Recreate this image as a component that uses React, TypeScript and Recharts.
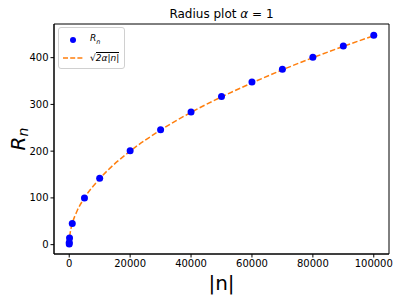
import React from "react";
import {
  ComposedChart,
  Scatter,
  Line,
  XAxis,
  YAxis,
  ReferenceArea,
} from "recharts";

// measured points
const nValues = [1, 10, 100, 1000, 5000, 10000, 20000, 30000, 40000, 50000, 60000, 70000, 80000, 90000, 100000];
const rValues = [1.4, 4.5, 14, 45, 100, 142, 201, 246, 284, 317, 348, 375, 401, 425, 448];

// fitted curve sqrt(2 alpha |n|)
const curveN = [0, 100, 250, 500, 1000, 2500, 5000, 10000, 20000, 30000, 40000, 50000, 60000, 70000, 80000, 90000, 100000];
const curveR = [0, 14, 22, 32, 45, 71, 100, 141, 200, 245, 283, 316, 346, 374, 400, 424, 447];

const xTicks = [0, 20000, 40000, 60000, 80000, 100000];
const yTicks = [0, 100, 200, 300, 400];

const points = nValues.map((n, i) => ({ n, r: rValues[i] }));
const curve = curveN.map((n, i) => ({ n, r: curveR[i] }));

const FONT = "DejaVu Sans, sans-serif";

const LegendBox = () => (
  <div
    style={{
      position: "absolute",
      left: 58,
      top: 27,
      border: "1px solid #d0d0d0",
      borderRadius: 3,
      background: "rgba(255,255,255,0.8)",
      padding: "2px 5px 2px 4px",
      fontFamily: FONT,
      fontSize: 9,
      color: "#000",
      lineHeight: "16px",
    }}
  >
    <div style={{ display: "flex", alignItems: "center" }}>
      <svg width={20} height={10} style={{ marginRight: 7 }}>
        <circle cx={10} cy={5} r={3} fill="#0000ff" />
      </svg>
      <span style={{ fontStyle: "italic" }}>
        R<sub style={{ fontSize: 6.5 }}>n</sub>
      </span>
    </div>
    <div style={{ display: "flex", alignItems: "center" }}>
      <svg width={20} height={10} style={{ marginRight: 7 }}>
        <line x1={0} y1={5} x2={20} y2={5} stroke="#ff7f0e" strokeWidth={1.5} strokeDasharray="5 2.2" />
      </svg>
      <span>
        √<span style={{ borderTop: "1px solid #000", fontStyle: "italic" }}>2α|n|</span>
      </span>
    </div>
  </div>
);

const YLabel = (props: any) => {
  const { viewBox } = props;
  const cx = 18;
  const cy = viewBox.y + viewBox.height / 2;
  return (
    <text
      x={cx}
      y={cy}
      transform={`rotate(-90 ${cx} ${cy})`}
      textAnchor="middle"
      dominantBaseline="central"
      fontFamily={FONT}
      fontSize={20}
      fontStyle="italic"
      fill="#000"
    >
      R<tspan fontSize={14} dy={5}>n</tspan>
    </text>
  );
};

export default function App() {
  return (
    <div style={{ position: "absolute", left: 0, top: 0, width: 401, height: 301, background: "#fff" }}>
      <div
        style={{
          position: "absolute",
          left: 54,
          width: 335,
          top: 7,
          textAlign: "center",
          fontFamily: FONT,
          fontSize: 12,
          color: "#000",
        }}
      >
        Radius plot <i>α</i> = 1
      </div>
      <ComposedChart width={401} height={301} margin={{ top: 24, right: 12, bottom: 0, left: 0 }}>
        <XAxis
          dataKey="n"
          type="number"
          domain={[-5000, 105000]}
          ticks={xTicks}
          allowDataOverflow
          height={47}
          stroke="#000"
          tickSize={3.5}
          tick={{ fontSize: 10, fill: "#000", fontFamily: FONT }}
          label={{ value: "|n|", position: "insideBottom", offset: 11, fontSize: 20, fill: "#000", fontFamily: FONT }}
        />
        <YAxis
          dataKey="r"
          type="number"
          domain={[-20, 472]}
          ticks={yTicks}
          allowDataOverflow
          width={54}
          stroke="#000"
          tickSize={3.5}
          tick={{ fontSize: 10, fill: "#000", fontFamily: FONT }}
          label={<YLabel />}
        />
        <ReferenceArea x1={-5000} x2={105000} y1={-20} y2={472} fill="none" stroke="#000" strokeWidth={1} />
        <Scatter data={points} dataKey="r" fill="#0000ff" isAnimationActive={false} shape={(p: any) => <circle cx={p.cx} cy={p.cy} r={3.5} fill="#0000ff" />} />
        <Line
          data={curve}
          dataKey="r"
          type="monotone"
          stroke="#ff7f0e"
          strokeWidth={1.5}
          strokeDasharray="5.5 2.4"
          dot={false}
          activeDot={false}
          isAnimationActive={false}
        />
      </ComposedChart>
      <LegendBox />
    </div>
  );
}
